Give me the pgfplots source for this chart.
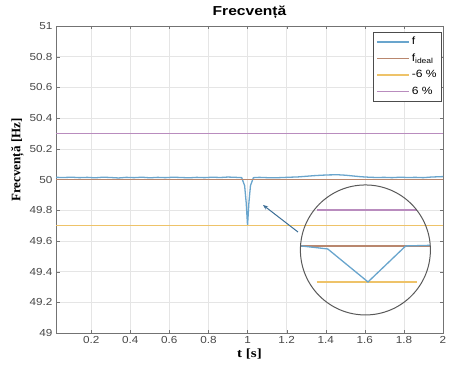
\documentclass[border=0pt]{standalone}
\usepackage{fontspec}
\setmainfont{Liberation Sans}
\newfontfamily\titlefont[FakeStretch=1.2]{Liberation Sans}
\newfontfamily\tickfont[FakeStretch=1.15]{Liberation Sans}
\newfontfamily\ylabfont{Liberation Serif}
\newfontfamily\xlabfont[FakeStretch=1.2]{Liberation Serif}
\usepackage{pgfplots}
\pgfplotsset{compat=1.18}
\usetikzlibrary{arrows.meta}
\definecolor{cf}{RGB}{105,165,205}
\definecolor{cideal}{RGB}{185,135,110}
\definecolor{cneg}{RGB}{238,195,105}
\definecolor{cpos}{RGB}{185,140,190}
\begin{document}
\begin{tikzpicture}
\begin{axis}[
  name=main,
  scale only axis, width=387pt, height=307pt,
  xmin=0.02, xmax=2, ymin=49, ymax=51,
  xtick={0.2,0.4,0.6,0.8,1,1.2,1.4,1.6,1.8,2},
  ytick={49,49.2,49.4,49.6,49.8,50,50.2,50.4,50.6,50.8,51},
  yticklabels={49,49.2,49.4,49.6,49.8,50,50.2,50.4,50.6,50.8,51},
  xticklabels={0.2,0.4,0.6,0.8,1,1.2,1.4,1.6,1.8,2},
  tick label style={font=\tickfont\fontsize{10.2}{11}\selectfont, color=black!72},
  /pgf/number format/assume math mode=true,
  grid=major, grid style={color=black!10},
  axis line style={black!55}, tick style={black!55},
  major tick length=3.5pt,
  title={\titlefont\bfseries\fontsize{13}{15}\selectfont Frecvență},
  title style={yshift=-2pt},
  xlabel={\xlabfont\bfseries\fontsize{12.5}{14}\selectfont t [s]},
  ylabel={\ylabfont\bfseries\fontsize{13}{15}\selectfont Frecvență [Hz]},
  xlabel style={yshift=2pt},
  ylabel style={at={(ticklabel cs:0.5635)}, yshift=-1pt},
  legend style={at={(0.997,0.980)}, anchor=north east, draw=black!70,
    font=\tickfont\fontsize{10.5}{12}\selectfont, row sep=3.5pt,
    inner sep=3pt, cells={anchor=west}},
  legend image code/.code={\draw[#1] (0pt,0pt) -- (32pt,0pt);},
]
\addplot[cf, line width=1.3pt] coordinates {
(0.02,50.014)(0.06,50.013)(0.10,50.015)(0.14,50.012)(0.18,50.014)(0.22,50.011)
(0.26,50.015)(0.30,50.013)(0.34,50.010)(0.38,50.014)(0.42,50.012)(0.46,50.015)
(0.50,50.011)(0.54,50.014)(0.58,50.012)(0.62,50.015)(0.66,50.013)(0.70,50.011)
(0.74,50.014)(0.78,50.012)(0.82,50.015)(0.86,50.013)(0.90,50.016)(0.94,50.014)
(0.97,50.012)(0.985,49.96)(0.993,49.85)(1.0,49.70)(1.007,49.85)(1.015,49.96)
(1.03,50.012)(1.06,50.014)(1.10,50.012)(1.14,50.011)(1.18,50.013)(1.22,50.015)
(1.26,50.017)(1.30,50.021)(1.34,50.025)(1.38,50.028)(1.42,50.030)(1.46,50.031)
(1.50,50.028)(1.54,50.023)(1.58,50.018)(1.62,50.015)(1.66,50.013)(1.70,50.014)
(1.74,50.012)(1.78,50.015)(1.82,50.013)(1.86,50.014)(1.90,50.012)(1.94,50.016)
(1.98,50.018)(2.00,50.019)};
\addlegendentry{f}
\addplot[cideal, line width=1.4pt] coordinates {(0.02,50)(2,50)};
\addlegendentry{f\textsubscript{ideal}}
\addplot[cneg, line width=1.4pt] coordinates {(0.02,49.7)(2,49.7)};
\addlegendentry{-6 \%}
\addplot[cpos, line width=1.4pt] coordinates {(0.02,50.3)(2,50.3)};
\addlegendentry{6 \%}
\draw[-{Stealth[length=5pt,width=4pt]}, color={rgb,255:red,60;green,110;blue,150}, line width=1pt]
  (axis cs:1.258,49.658) -- (axis cs:1.079,49.834);
\coordinate (zc) at (axis cs:1.603,49.541);
\coordinate (bl) at (rel axis cs:0,0);
\coordinate (tr) at (rel axis cs:1,1);
\end{axis}
\begin{axis}[
  at={(zc)}, anchor=center,
  scale only axis, width=130pt, height=130pt,
  hide axis, clip=false,
  xmin=0.9, xmax=1.1, ymin=49.425, ymax=50.508,
]
\addplot[cideal, line width=1.4pt] coordinates {(0.901,50.0)(1.099,50.0)};
\addplot[cpos, line width=1.4pt] coordinates {(0.925,50.3)(1.079,50.3)};
\addplot[cneg, line width=1.4pt] coordinates {(0.925,49.7)(1.079,49.7)};
\addplot[cf, line width=1.3pt] coordinates {(0.901,50.0)(0.942,49.975)(1.004,49.7)(1.062,50.0)(1.099,50.005)};
\draw[black!65, line width=1pt] (rel axis cs:0.5,0.5) circle [radius=65pt];
\end{axis}
\pgfresetboundingbox
\path[use as bounding box] ([shift={(-56pt,-39pt)}]bl) rectangle ([shift={(9pt,26pt)}]tr);
\end{tikzpicture}
\end{document}
